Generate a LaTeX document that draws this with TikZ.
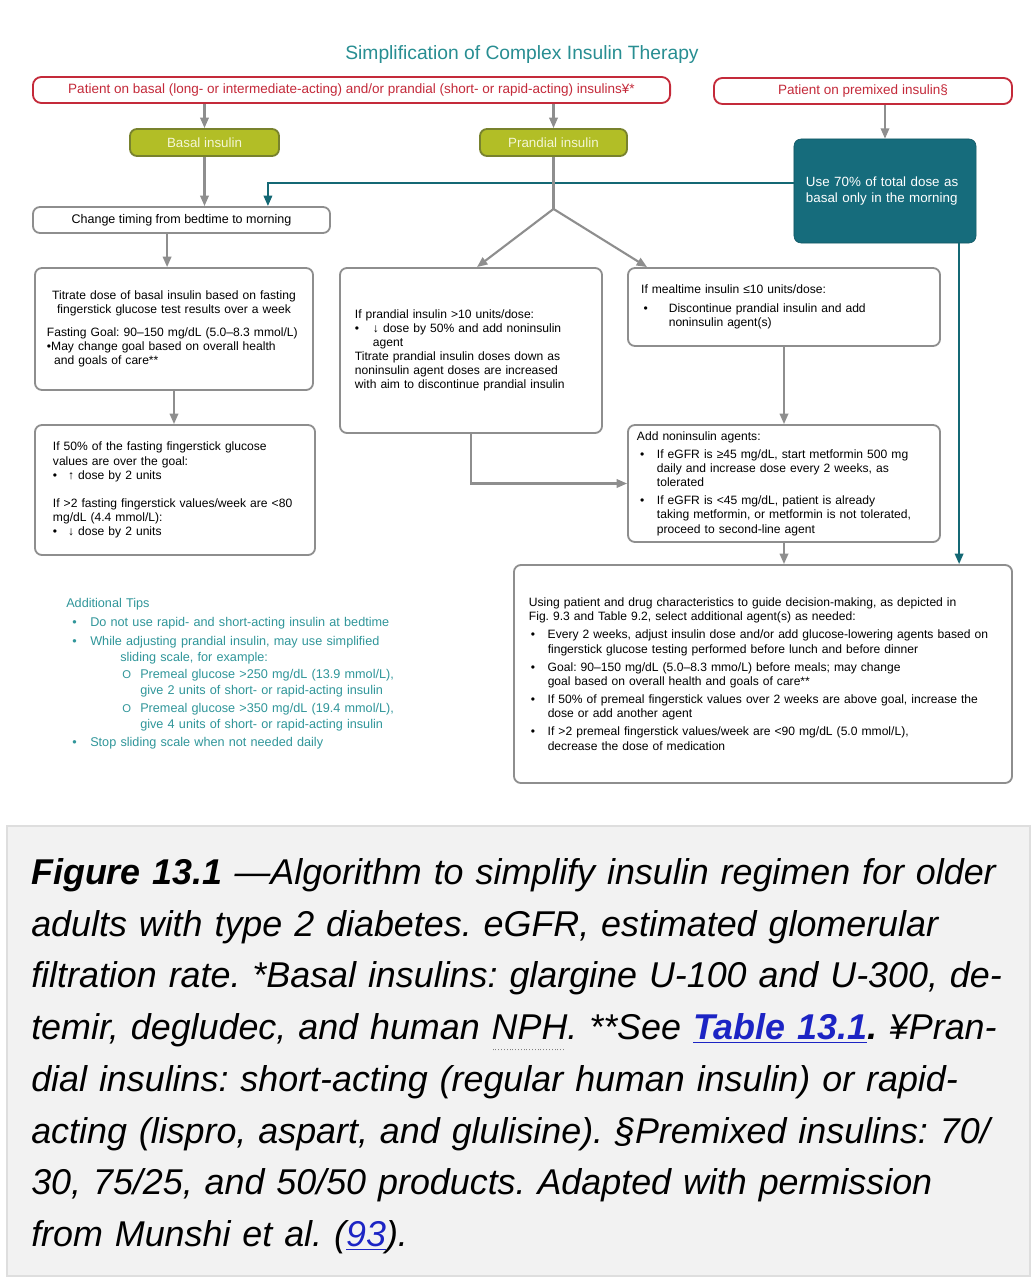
\documentclass[tikz,border=0pt]{standalone}
\usepackage{fontspec}
\setmainfont{Liberation Sans}
\usepackage{xcolor}
\usetikzlibrary{arrows.meta}

\definecolor{grayln}{RGB}{142,142,142}
\definecolor{redln}{RGB}{196,42,58}
\definecolor{olivefl}{RGB}{178,190,38}
\definecolor{olivedk}{RGB}{120,130,45}
\definecolor{olivetx}{RGB}{244,246,214}
\definecolor{tealfl}{RGB}{22,108,124}
\definecolor{tealln}{RGB}{20,104,116}
\definecolor{ttlcol}{RGB}{40,142,146}
\definecolor{tipcol}{RGB}{48,150,154}
\definecolor{capbg}{RGB}{242,242,242}
\definecolor{capln}{RGB}{222,222,222}
\definecolor{link}{RGB}{28,36,196}

\newcommand{\fs}{\fontsize{8.6}{10}\selectfont}
% indent, symbol box width, symbol
\newcommand{\bl}[3]{\par\hangindent=\dimexpr#1+#2\relax\hangafter=1\noindent\hspace*{#1}\makebox[#2][l]{#3}}
% dotted underline
\newcommand{\dotul}[1]{\leavevmode\setbox0\hbox{#1}\rlap{\raisebox{-0.3em}{\hbox to \wd0{\color{gray}\leaders\hbox to 2pt{\hss\rule{0.7pt}{0.7pt}\hss}\hfill}}}\box0}

\begin{document}
\frenchspacing
\begin{tikzpicture}[x=0.025cm, y=-0.025cm, font=\fs,
  box/.style={draw=grayln, line width=1.3pt, rounded corners=5pt, align=left},
  redbox/.style={draw=redln, line width=1.3pt, rounded corners=6pt, text=redln, minimum height=0.65cm, font=\fontsize{9.6}{11}\selectfont},
  olive/.style={draw=olivedk, fill=olivefl, line width=1.3pt, rounded corners=5pt, text=olivetx, minimum height=0.675cm, font=\fontsize{9.5}{11}\selectfont},
  arr/.style={-{Triangle[length=2.6mm,width=2.1mm]}, draw=grayln, line width=1.5pt},
  tarr/.style={-{Triangle[length=2.6mm,width=2.1mm]}, draw=tealln, line width=1.5pt}]
\fill[white] (0,0) rectangle (1036,1280);
\useasboundingbox (0,0) rectangle (1036,1280);

% title and entry boxes
\node[text=ttlcol, font=\fontsize{13.7}{15}\selectfont] (ttl) at (522,55) {Simplification of Complex Insulin Therapy};
\node[redbox, minimum width=15.925cm] (pb) at (351.5,90) {Patient on basal (long- or intermediate-acting) and/or prandial (short- or rapid-acting) insulins¥*};
\node[redbox, minimum width=7.45cm] (pm) at (863,91) {Patient on premixed insulin§};
\node[olive, minimum width=3.725cm] (bas) at (204.5,142.5) {Basal insulin};
\node[olive, minimum width=3.675cm] (pra) at (553.5,142.5) {Prandial insulin};
\node[fill=tealfl, draw=tealfl!80!black, rounded corners=5pt, text=white, align=left, text width=3.95cm, inner xsep=0.3cm, minimum height=2.6cm, font=\fontsize{9.5}{11.2}\selectfont] (pre) at (885,191) {Use 70\% of total dose as\\basal only in the morning};

% basal side
\node[box, minimum width=7.425cm, minimum height=0.65cm, align=center, font=\fontsize{8.9}{10}\selectfont] (chg) at (181.5,220) {Change timing from bedtime to morning};
\node[box, text width=6.35cm, inner xsep=0.3cm, minimum height=3.05cm] (tit) at (174,329) {{\centering Titrate dose of basal insulin based on fasting\\fingerstick glucose test results over a week\par}
\vspace{6pt}Fasting Goal: 90--150 mg/dL (5.0--8.3 mmol/L)\\
\textbullet May change goal based on overall health\\
\hspace*{0.6em}and goals of care**};
\node[box, text width=6.1cm, inner xsep=0.45cm, minimum height=3.25cm] (lo) at (175,490) {If 50\% of the fasting fingerstick glucose\\values are over the goal:
\bl{0pt}{0.38cm}{\textbullet}↑ dose by 2 units\par
\vspace{10pt}If >2 fasting fingerstick values/week are <80\\mg/dL (4.4 mmol/L):
\bl{0pt}{0.38cm}{\textbullet}↓ dose by 2 units\par};

% prandial side
\node[box, text width=5.8cm, inner xsep=0.375cm, minimum height=4.125cm] (mid) at (471,350.5) {If prandial insulin >10 units/dose:
\bl{0pt}{0.45cm}{\textbullet}↓ dose by 50\% and add noninsulin\newline agent\par
Titrate prandial insulin doses down as\\noninsulin agent doses are increased\\with aim to discontinue prandial insulin};
\node[box, text width=7.14cm, inner xsep=0.33cm, minimum height=1.95cm] (meal) at (784,307) {If mealtime insulin ≤10 units/dose:\par\vspace{3pt}
\bl{0.06cm}{0.63cm}{\textbullet}Discontinue prandial insulin and add\newline noninsulin agent(s)\par};
\node[box, text width=7.35cm, inner xsep=0.225cm, minimum height=2.925cm] (add) at (784,483.5) {Add noninsulin agents:\par\vspace{3pt}
\bl{0.08cm}{0.42cm}{\textbullet}If eGFR is ≥45 mg/dL, start metformin 500 mg\newline daily and increase dose every 2 weeks, as\newline tolerated\par\vspace{3pt}
\bl{0.08cm}{0.42cm}{\textbullet}If eGFR is <45 mg/dL, patient is already\newline taking metformin, or metformin is not tolerated,\newline proceed to second-line agent\par};
\node[box, text width=11.7cm, inner xsep=0.375cm, minimum height=5.45cm] (fin) at (763,674) {Using patient and drug characteristics to guide decision-making, as depicted in\\Fig. 9.3 and Table 9.2, select additional agent(s) as needed:\par\vspace{3pt}
\bl{0.05cm}{0.42cm}{\textbullet}Every 2 weeks, adjust insulin dose and/or add glucose-lowering agents based on\newline fingerstick glucose testing performed before lunch and before dinner\par\vspace{3pt}
\bl{0.05cm}{0.42cm}{\textbullet}Goal: 90--150 mg/dL (5.0--8.3 mmo/L) before meals; may change\newline goal based on overall health and goals of care**\par\vspace{3pt}
\bl{0.05cm}{0.42cm}{\textbullet}If 50\% of premeal fingerstick values over 2 weeks are above goal, increase the\newline dose or add another agent\par\vspace{3pt}
\bl{0.05cm}{0.42cm}{\textbullet}If >2 premeal fingerstick values/week are <90 mg/dL (5.0 mmol/L),\newline decrease the dose of medication\par};

% tips
\node[anchor=north west, text=tipcol, text width=9.8cm, align=left, inner sep=0pt, font=\fontsize{9}{11.4}\selectfont] (tips) at (66,598) {Additional Tips\par\vspace{2pt}
\bl{0.15cm}{0.45cm}{\textbullet}Do not use rapid- and short-acting insulin at bedtime\par\vspace{2pt}
\bl{0.15cm}{0.45cm}{\textbullet}While adjusting prandial insulin, may use simplified\newline\hspace*{0.75cm}sliding scale, for example:\par\vspace{1pt}
\bl{1.4cm}{0.45cm}{\footnotesize O}Premeal glucose >250 mg/dL (13.9 mmol/L),\newline give 2 units of short- or rapid-acting insulin\par\vspace{1pt}
\bl{1.4cm}{0.45cm}{\footnotesize O}Premeal glucose >350 mg/dL (19.4 mmol/L),\newline give 4 units of short- or rapid-acting insulin\par\vspace{2pt}
\bl{0.15cm}{0.45cm}{\textbullet}Stop sliding scale when not needed daily\par};

% connectors
\coordinate (sp) at ([yshift=-1.3cm]pra.south);
\draw[arr] (pb.south -| bas.north) -- (bas.north);
\draw[arr] (pb.south -| pra.north) -- (pra.north);
\draw[arr] (pre.north |- pm.south) -- (pre.north);
\draw[arr] (bas.south) -- (bas.south |- chg.north);
\draw[tarr] ([yshift=0.21cm]pre.west) -| ([xshift=2.16cm]chg.north);
\draw[draw=grayln, line width=1.5pt] (pra.south) -- (sp);
\draw[arr] (sp) -- ([xshift=0.15cm]mid.north);
\draw[arr] (sp) -- ([xshift=0.5cm]meal.north west);
\draw[arr] ([xshift=-0.36cm]chg.south) -- ([xshift=-0.36cm]chg.south |- tit.north);
\draw[arr] (tit.south) -- (tit.south |- lo.north);
\draw[arr] (mid.south) |- (add.west);
\draw[arr] (meal.south) -- (add.north);
\draw[arr] (add.south) -- (add.south |- fin.north);
\draw[tarr] ([xshift=-0.43cm]pre.south east) -- ([xshift=-0.43cm]pre.south east |- fin.north);

% caption
\fill[capbg, draw=capln, line width=1pt] (7,826) rectangle (1030,1276);
\node[anchor=north west, inner sep=0pt, text width=25cm, align=left, font=\fontsize{25.5}{36.8}\selectfont\itshape] (cap) at (31,858) {\textbf{Figure 13.1} —Algorithm to simplify insulin regimen for older\\
adults with type 2 diabetes. eGFR, estimated glomerular\\
filtration rate. *Basal insulins: glargine U-100 and U-300, de-\\
temir, degludec, and human \dotul{NPH}. **See \textcolor{link}{\textbf{\underline{Table 13.1}}}\textbf{.} ¥Pran-\\
dial insulins: short-acting (regular human insulin) or rapid-\\
acting (lispro, aspart, and glulisine). §Premixed insulins: 70/\\
30, 75/25, and 50/50 products. Adapted with permission\\
from Munshi et al. (\textcolor{link}{\underline{93}}).};
\end{tikzpicture}
\end{document}
